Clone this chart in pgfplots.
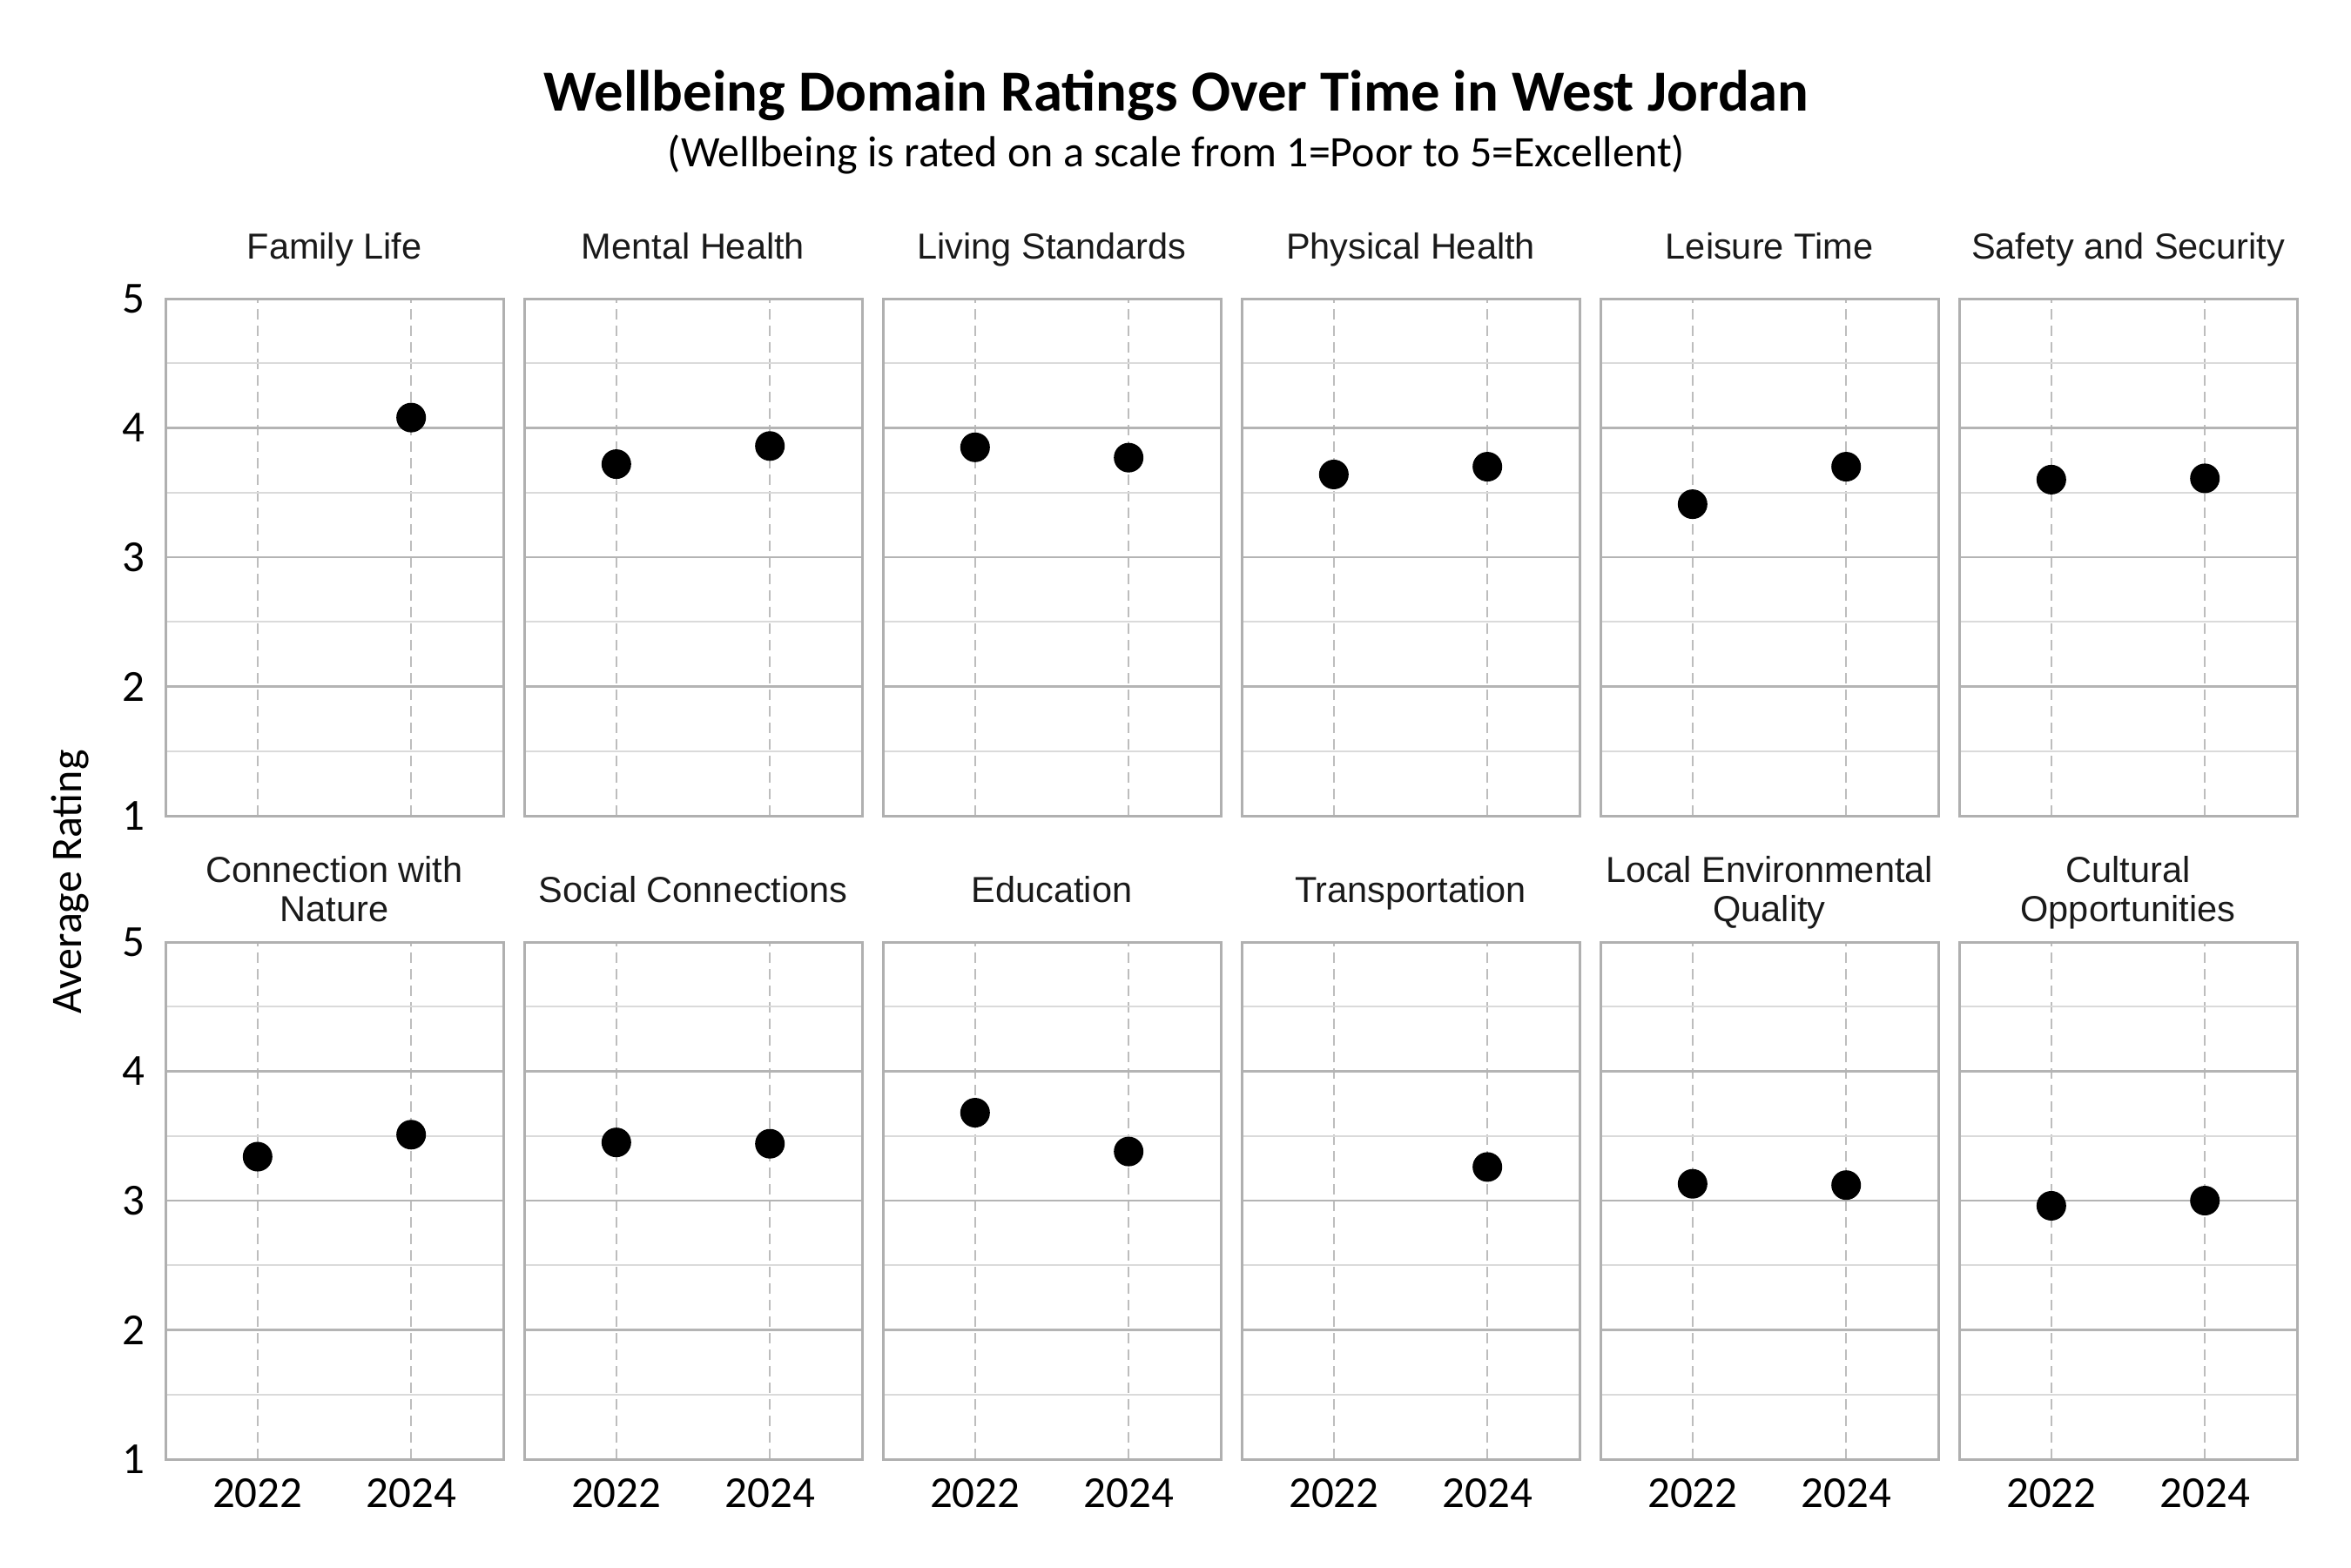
\documentclass[border=0pt]{standalone}
\usepackage{fontspec}
\setmainfont{Carlito}
\newfontfamily\arialf{Liberation Sans}
\usepackage{pgfplots}
\pgfplotsset{compat=1.18}

\definecolor{frame}{HTML}{B0B0B0}
\definecolor{majgrid}{HTML}{B4B4B4}
\definecolor{mingrid}{HTML}{DADADA}
\definecolor{vgrid}{HTML}{BDBDBD}
\definecolor{ptitle}{HTML}{1A1A1A}

\pgfplotsset{
  panel/.style={
    scale only axis, width=77.6pt, height=118.8pt, anchor=south west,
    xmin=2020.8, xmax=2025.2, ymin=1, ymax=5,
    xtick={2022,2024}, xticklabels={}, ytick={1,2,3,4,5}, yticklabels={},
    minor ytick={1.5,2.5,3.5,4.5},
    xmajorgrids, ymajorgrids, yminorgrids,
    major x grid style={vgrid, line width=0.35pt, dash pattern=on 2.4pt off 1.4pt},
    major y grid style={majgrid, line width=0.45pt},
    minor y grid style={mingrid, line width=0.35pt},
    axis line style={frame, line width=0.6pt},
    tick style={draw=none},
    every axis title/.style={at={(0.5,1)}, anchor=center, yshift=11pt, align=center,
      font=\arialf\fontsize{8.3}{9}\selectfont, text=ptitle},
    tick label style={font=\fontsize{10.2}{12}\selectfont},
    yticklabel style={xshift=-1.2pt},
    xticklabel style={yshift=-1pt},
    clip=false,
  },
  leftcol/.style={yticklabels={1,2,3,4,5}},
  botrow/.style={xticklabels={2022,2024}},
  dots/.style={only marks, mark=*, mark size=3.2pt, black},
}

\begin{document}
\begin{tikzpicture}
\path[use as bounding box] (0,0) rectangle (540pt,360pt);

\node[font=\bfseries\fontsize{13.35}{16}\selectfont] at (270.2pt,338pt)
  {Wellbeing Domain Ratings Over Time in West Jordan};
\node[font=\fontsize{10}{12}\selectfont] at (270.2pt,324.4pt)
  {(Wellbeing is rated on a scale from 1=Poor to 5=Excellent)};
\node[rotate=90, font=\fontsize{10}{12}\selectfont] at (16.2pt,157.4pt) {Average Rating};

% top row
\begin{axis}[panel, leftcol, at={(38pt,172.6pt)}, title={\strut Family Life}]
\addplot[dots] coordinates {(2024,4.08)};
\end{axis}
\begin{axis}[panel, at={(120.4pt,172.6pt)}, title={\strut Mental Health}]
\addplot[dots] coordinates {(2022,3.72) (2024,3.86)};
\end{axis}
\begin{axis}[panel, at={(202.8pt,172.6pt)}, title={\strut Living Standards}]
\addplot[dots] coordinates {(2022,3.85) (2024,3.77)};
\end{axis}
\begin{axis}[panel, at={(285.2pt,172.6pt)}, title={\strut Physical Health}]
\addplot[dots] coordinates {(2022,3.64) (2024,3.70)};
\end{axis}
\begin{axis}[panel, at={(367.6pt,172.6pt)}, title={\strut Leisure Time}]
\addplot[dots] coordinates {(2022,3.41) (2024,3.70)};
\end{axis}
\begin{axis}[panel, at={(450pt,172.6pt)}, title={\strut Safety and Security}]
\addplot[dots] coordinates {(2022,3.60) (2024,3.61)};
\end{axis}

% bottom row
\begin{axis}[panel, leftcol, botrow, at={(38pt,24.8pt)}, title={\strut Connection with\\\strut Nature}]
\addplot[dots] coordinates {(2022,3.34) (2024,3.51)};
\end{axis}
\begin{axis}[panel, botrow, at={(120.4pt,24.8pt)}, title={\strut Social Connections}]
\addplot[dots] coordinates {(2022,3.45) (2024,3.44)};
\end{axis}
\begin{axis}[panel, botrow, at={(202.8pt,24.8pt)}, title={\strut Education}]
\addplot[dots] coordinates {(2022,3.68) (2024,3.38)};
\end{axis}
\begin{axis}[panel, botrow, at={(285.2pt,24.8pt)}, title={\strut Transportation}]
\addplot[dots] coordinates {(2024,3.26)};
\end{axis}
\begin{axis}[panel, botrow, at={(367.6pt,24.8pt)}, title={\strut Local Environmental\\\strut Quality}]
\addplot[dots] coordinates {(2022,3.13) (2024,3.12)};
\end{axis}
\begin{axis}[panel, botrow, at={(450pt,24.8pt)}, title={\strut Cultural\\\strut Opportunities}]
\addplot[dots] coordinates {(2022,2.96) (2024,3.00)};
\end{axis}
\end{tikzpicture}
\end{document}
